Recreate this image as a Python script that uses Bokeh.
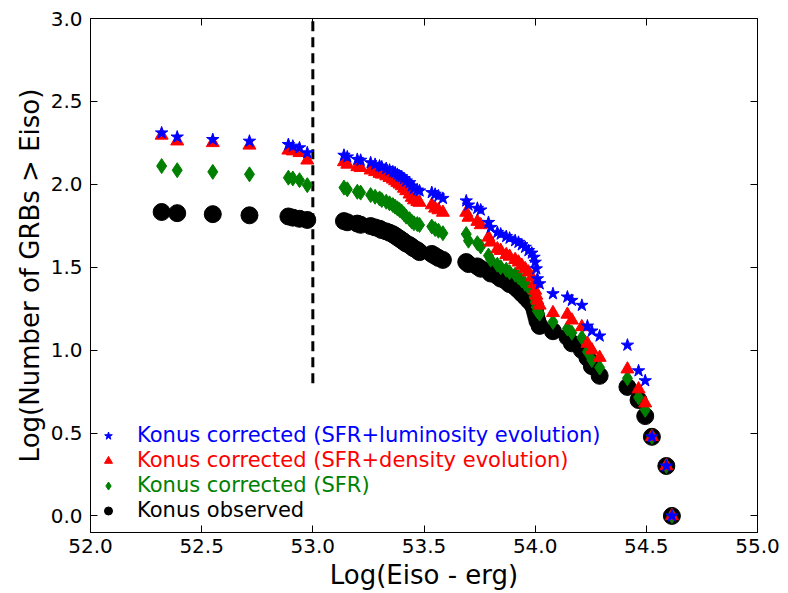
from bokeh.plotting import figure
from bokeh.models import (Range1d, FixedTicker, LinearAxis, Legend, LegendItem,
                          ColumnDataSource, PrintfTickFormatter, CustomLabelingPolicy)
from bokeh.embed import file_html
from bokeh.resources import INLINE

# ---- data ----
log_eiso = [
    52.32, 52.39, 52.55, 52.715,
    52.89, 52.91, 52.94, 52.975,
    53.14, 53.155, 53.20, 53.215, 53.26, 53.28, 53.30, 53.31, 53.33, 53.345,
    53.36, 53.37, 53.38, 53.39, 53.40, 53.41, 53.42, 53.435, 53.445, 53.455,
    53.47, 53.48, 53.535, 53.55, 53.565, 53.585,
    53.69, 53.70, 53.74, 53.755, 53.79, 53.80, 53.83, 53.845, 53.87, 53.885,
    53.91, 53.925, 53.94, 53.955, 53.97, 53.985, 53.995, 54.0, 54.005, 54.01, 54.02,
    54.08, 54.145, 54.165, 54.21, 54.235, 54.255, 54.29, 54.415, 54.465, 54.495,
    54.525, 54.59, 54.615,
]
konus_observed = [
    1.833, 1.826, 1.820, 1.813,
    1.806, 1.799, 1.792, 1.785,
    1.778, 1.771, 1.763, 1.756, 1.748, 1.740, 1.732, 1.724, 1.716, 1.708,
    1.699, 1.690, 1.681, 1.672, 1.663, 1.653, 1.643, 1.633, 1.623, 1.613,
    1.602, 1.591, 1.580, 1.568, 1.556, 1.544,
    1.531, 1.519, 1.505, 1.491, 1.477, 1.462, 1.447, 1.431, 1.415, 1.398,
    1.380, 1.362, 1.342, 1.322, 1.301, 1.279, 1.255, 1.230, 1.204, 1.176, 1.146,
    1.114, 1.079, 1.041, 1.000, 0.954, 0.903, 0.845, 0.778, 0.699, 0.602,
    0.477, 0.301, 0.000,
]
konus_sfr = [
    2.11, 2.085, 2.075, 2.06,
    2.04, 2.035, 2.025, 1.995,
    1.98, 1.97, 1.955, 1.95, 1.935, 1.925, 1.915, 1.905, 1.895, 1.885,
    1.875, 1.865, 1.855, 1.845, 1.835, 1.82, 1.805, 1.79, 1.775, 1.765,
    1.76, 1.755, 1.745, 1.73, 1.72, 1.705,
    1.70, 1.66, 1.645, 1.625, 1.57, 1.545, 1.515, 1.50, 1.485, 1.47,
    1.455, 1.44, 1.42, 1.40, 1.38, 1.36, 1.32, 1.29, 1.26, 1.235, 1.22,
    1.17, 1.13, 1.105, 1.075, 0.99, 0.94, 0.895, 0.83, 0.715, 0.64,
    0.477, 0.301, 0.000,
]
konus_sfr_density = [
    2.295, 2.26, 2.25, 2.235,
    2.205, 2.20, 2.19, 2.145,
    2.135, 2.12, 2.105, 2.10, 2.085, 2.075, 2.065, 2.06, 2.05, 2.04,
    2.03, 2.02, 2.01, 2.0, 1.99, 1.975, 1.96, 1.94, 1.92, 1.905,
    1.895, 1.89, 1.875, 1.855, 1.845, 1.83,
    1.83, 1.80, 1.775, 1.755, 1.68, 1.65, 1.61, 1.60, 1.575, 1.565,
    1.545, 1.53, 1.51, 1.49, 1.47, 1.44, 1.40, 1.36, 1.33, 1.30, 1.27,
    1.225, 1.215, 1.18, 1.14, 1.04, 1.0, 0.955, 0.885, 0.765, 0.68,
    0.477, 0.301, 0.000,
]
konus_sfr_lum = [
    2.31, 2.285, 2.27, 2.26,
    2.24, 2.23, 2.22, 2.19,
    2.175, 2.165, 2.15, 2.145, 2.13, 2.12, 2.11, 2.105, 2.095, 2.085,
    2.075, 2.07, 2.06, 2.05, 2.045, 2.035, 2.02, 2.01, 1.99, 1.975,
    1.965, 1.96, 1.95, 1.94, 1.93, 1.915,
    1.90, 1.875, 1.855, 1.845, 1.77, 1.74, 1.71, 1.70, 1.685, 1.675,
    1.66, 1.65, 1.635, 1.62, 1.60, 1.585, 1.56, 1.53, 1.49, 1.43, 1.40,
    1.34, 1.32, 1.30, 1.27, 1.145, 1.115, 1.085, 1.03, 0.875, 0.815,
    0.477, 0.301, 0.000,
]
series_labels = [
    "Konus corrected (SFR+luminosity evolution)",
    "Konus corrected (SFR+density evolution)",
    "Konus corrected (SFR)",
    "Konus observed",
]
x_ticks = [52.0, 52.5, 53.0, 53.5, 54.0, 54.5, 55.0]
y_ticks = [0.0, 0.5, 1.0, 1.5, 2.0, 2.5, 3.0]
cut_x = [53.0, 53.0]
cut_y = [0.8, 3.0]

src = ColumnDataSource(dict(x=log_eiso, obs=konus_observed, sfr=konus_sfr,
                            dens=konus_sfr_density, lum=konus_sfr_lum))

FONT = "DejaVu Sans"

p = figure(width=788, height=593, output_backend="svg", toolbar_location=None,
           x_range=Range1d(52.0, 55.0), y_range=Range1d(-0.1, 3.0),
           min_border_left=90, min_border_right=31, min_border_top=18,
           min_border_bottom=61)
p.xgrid.visible = False
p.ygrid.visible = False
p.outline_line_color = "black"
p.outline_line_width = 1
p.background_fill_color = "white"
p.border_fill_color = "white"

for ax, ticks in ((p.xaxis[0], x_ticks), (p.yaxis[0], y_ticks)):
    ax.ticker = FixedTicker(ticks=ticks)
    ax.formatter = PrintfTickFormatter(format="%.1f")
    ax.major_tick_in = 7
    ax.major_tick_out = 0
    ax.minor_tick_in = 0
    ax.minor_tick_out = 0
    ax.axis_line_color = "black"
    ax.major_tick_line_color = "black"
    ax.major_label_text_font = FONT
    ax.major_label_text_font_size = "20px"
    ax.major_label_text_color = "black"
    ax.axis_label_text_font = FONT
    ax.axis_label_text_font_size = "26px"
    ax.axis_label_text_font_style = "normal"
    ax.axis_label_text_color = "black"

p.xaxis[0].axis_label = "Log(Eiso - erg)"
p.yaxis[0].axis_label = "Log(Number of GRBs > Eiso)"
p.xaxis[0].major_label_standoff = 6
p.xaxis[0].axis_label_standoff = 4
p.yaxis[0].major_label_standoff = 8
p.yaxis[0].axis_label_standoff = 3

no_labels = CustomLabelingPolicy(code="return new Set()")
top_ax = LinearAxis(ticker=FixedTicker(ticks=x_ticks), major_label_text_font_size="0px",
                    major_label_policy=no_labels,
                    major_tick_in=7, major_tick_out=0, minor_tick_in=0, minor_tick_out=0,
                    major_label_standoff=0, axis_line_color="black")
right_ax = LinearAxis(ticker=FixedTicker(ticks=y_ticks), major_label_text_font_size="0px",
                      major_label_policy=CustomLabelingPolicy(code="return new Set()"),
                      major_tick_in=7, major_tick_out=0, minor_tick_in=0, minor_tick_out=0,
                      major_label_standoff=0, axis_line_color="black")
p.add_layout(top_ax, "above")
p.add_layout(right_ax, "right")

# dashed threshold line
p.line(cut_x, cut_y, line_color="black", line_width=3, line_dash="10 6")

r_obs = p.scatter("x", "obs", source=src, marker="circle", size=17,
                  fill_color="black", line_color="black")
r_sfr = p.scatter("x", "sfr", source=src, marker="diamond", size=15,
                  fill_color="green", line_color="green")
r_dens = p.scatter("x", "dens", source=src, marker="triangle", size=13,
                   fill_color="red", line_color="red")
r_lum = p.scatter("x", "lum", source=src, marker="star", size=13,
                  fill_color="blue", line_color="blue")

colors = ["blue", "red", "green", "black"]
renderers = [r_lum, r_dens, r_sfr, r_obs]
bottoms = [84.5, 59.5, 34.5, 9.5]
for lbl, col, rr, b in zip(series_labels, colors, renderers, bottoms):
    lg = Legend(items=[LegendItem(label=lbl, renderers=[rr])],
                location=(8, b), padding=0, margin=0, spacing=0,
                glyph_width=20, glyph_height=25, label_height=25,
                label_standoff=19, label_text_font=FONT,
                label_text_font_size="21px", label_text_color=col,
                background_fill_alpha=0, border_line_alpha=0)
    p.add_layout(lg)

open("out.html", "w").write(file_html(p, INLINE))
